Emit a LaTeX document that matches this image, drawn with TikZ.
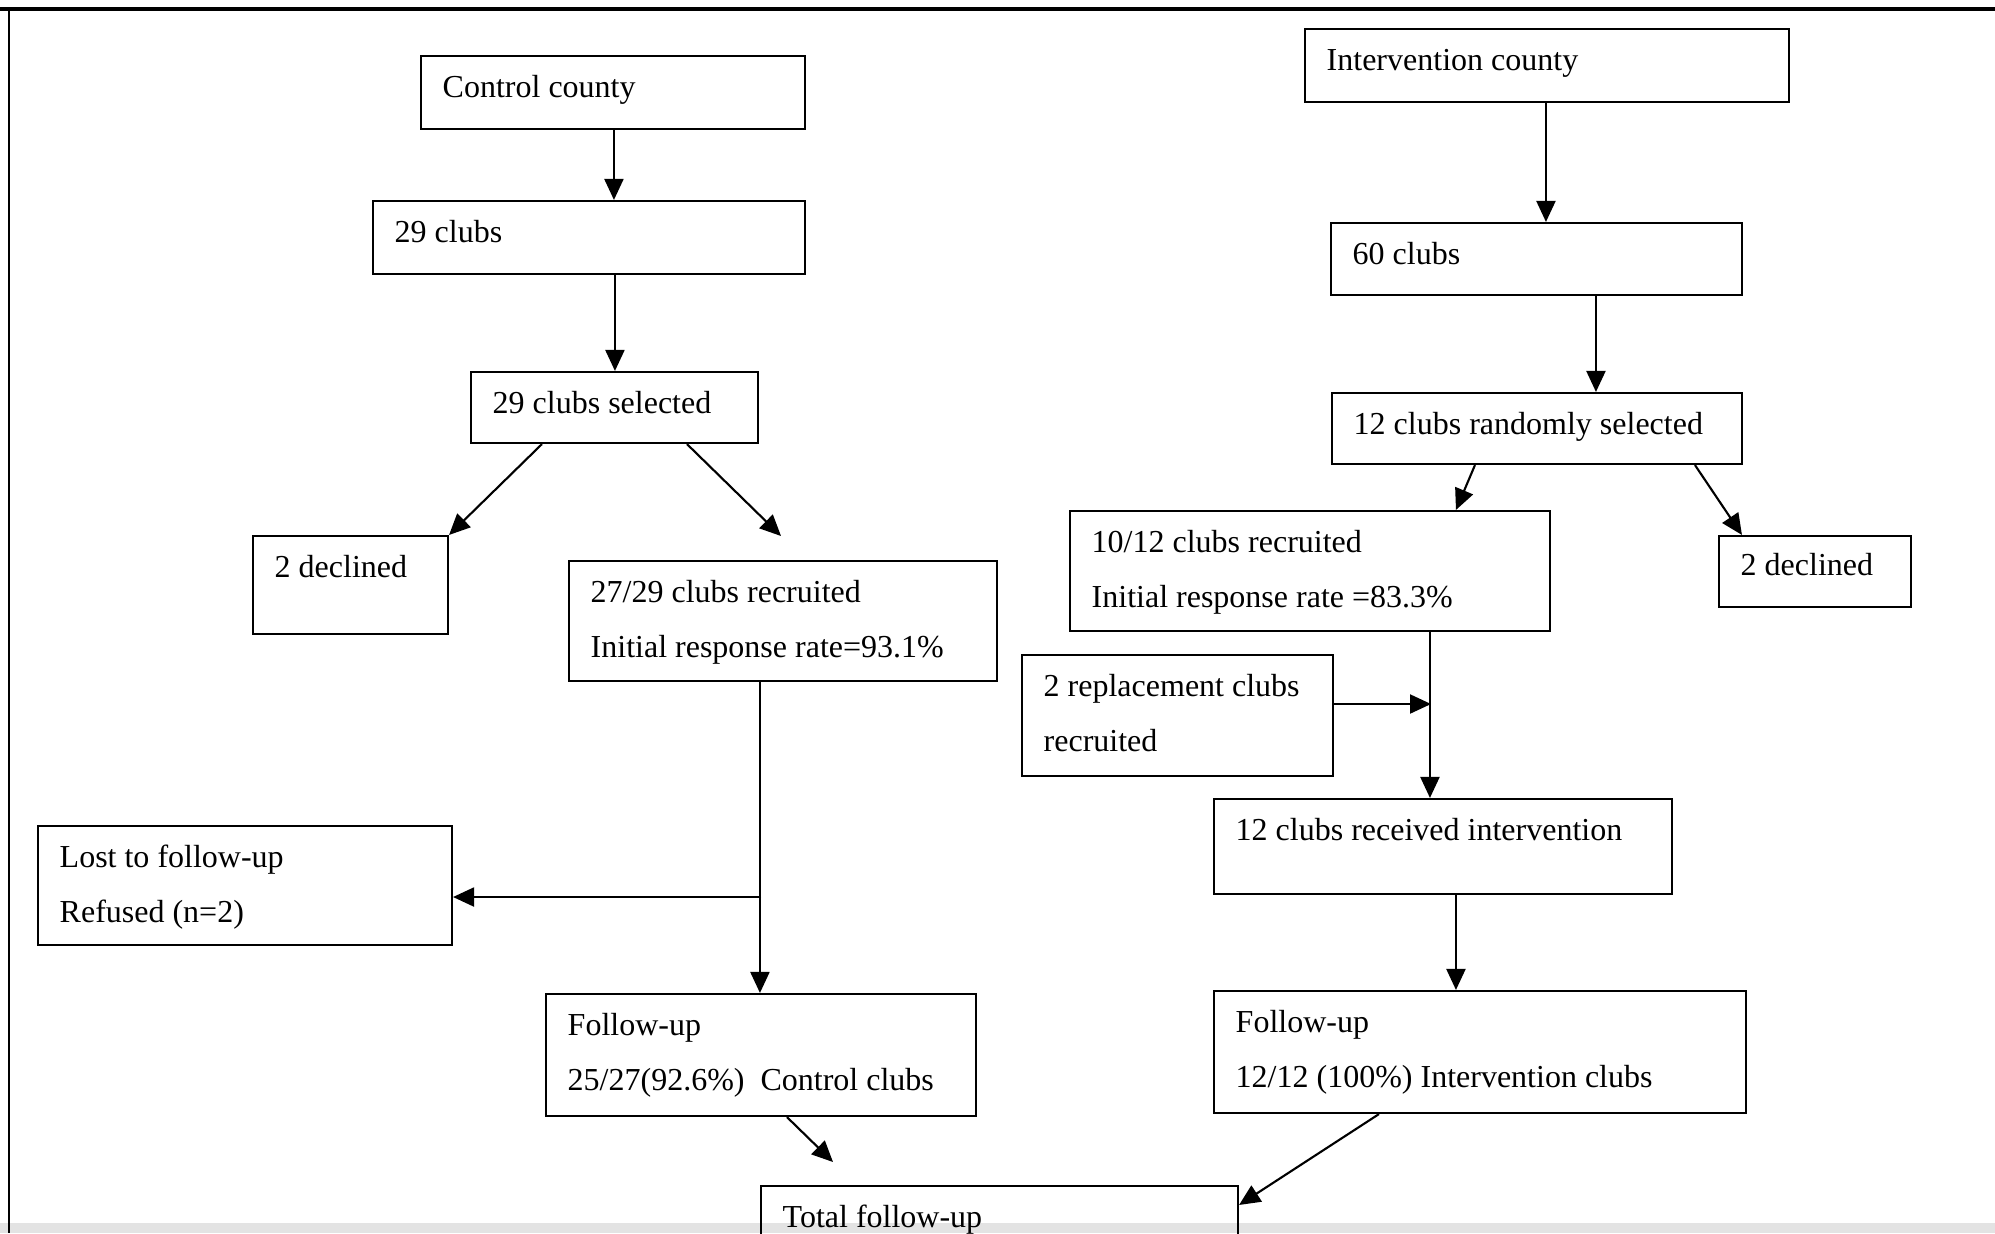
\documentclass[tikz,border=0pt]{standalone}
\usepackage{fontspec}
\setmainfont{Liberation Serif}
\usetikzlibrary{arrows.meta,fit,calc}
\begin{document}
\begin{tikzpicture}[x=0.01cm,y=-0.01cm,
  box/.style={draw, line width=0.6pt, inner sep=0pt},
  txt/.style={anchor=base west, inner sep=0pt, font=\fontsize{9.1}{11}\selectfont},
  arr/.style={-{Triangle[length=2.1mm,width=1.9mm]}, line width=0.6pt}]
\clip (0,0) rectangle (1995,1233);
\fill[white] (0,0) rectangle (1995,1233);
\fill[gray!22] (0,1223) rectangle (1995,1233);
% frame
\draw[line width=1pt] (0,9) -- (1995,9);
\draw[line width=0.8pt] (9,9) -- (9,1233);
% control side boxes
\node[box, fit={(421,56) (805,129)}] (cc) {};
\node[txt] (tcc) at (442,97) {Control county};
\node[box, fit={(373,201) (805,274)}] (c29) {};
\node[txt] (tc29) at (394,242) {29 clubs};
\node[box, fit={(471,372) (758,443)}] (sel) {};
\node[txt] (tsel) at (492,413) {29 clubs selected};
\node[box, fit={(253,536) (448,634)}] (dl) {};
\node[txt] (tdl) at (274,577) {2 declined};
\node[box, fit={(569,561) (997,681)}] (rec) {};
\node[txt] (trec1) at (590,602) {27/29 clubs recruited};
\node[txt] (trec2) at (590,657) {Initial response rate=93.1\%};
\node[box, fit={(38,826) (452,945)}] (lost) {};
\node[txt] (tlost1) at (59,867) {Lost to follow-up};
\node[txt] (tlost2) at (59,922) {Refused (n=2)};
\node[box, fit={(546,994) (976,1116)}] (fuc) {};
\node[txt] (tfuc1) at (567,1035) {Follow-up};
\node[txt] (tfuc2) at (567,1090) {25/27(92.6\%)\ \ Control clubs};
\node[box, fit={(761,1186) (1238,1300)}] (tot) {};
\node[txt] (ttot) at (782,1227) {Total follow-up};
% intervention side boxes
\node[box, fit={(1305,29) (1789,102)}] (ic) {};
\node[txt] (tic) at (1326,70) {Intervention county};
\node[box, fit={(1331,223) (1742,295)}] (c60) {};
\node[txt] (tc60) at (1352,264) {60 clubs};
\node[box, fit={(1332,393) (1742,464)}] (rs) {};
\node[txt] (trs) at (1353,434) {12 clubs randomly selected};
\node[box, fit={(1070,511) (1550,631)}] (rec2) {};
\node[txt] (trecb1) at (1091,552) {10/12 clubs recruited};
\node[txt] (trecb2) at (1091,607) {Initial response rate =83.3\%};
\node[box, fit={(1719,536) (1911,607)}] (dr) {};
\node[txt] (tdr) at (1740,575) {2 declined};
\node[box, fit={(1022,655) (1333,776)}] (rep) {};
\node[txt] (trep1) at (1043,696) {2 replacement clubs};
\node[txt] (trep2) at (1043,751) {recruited};
\node[box, fit={(1214,799) (1672,894)}] (rci) {};
\node[txt] (trci) at (1235,840) {12 clubs received intervention};
\node[box, fit={(1214,991) (1746,1113)}] (fui) {};
\node[txt] (tfui1) at (1235,1032) {Follow-up};
\node[txt] (tfui2) at (1235,1087) {12/12 (100\%) Intervention clubs};
% free ends / junctions
\coordinate (e1) at (781,536);
\coordinate (b1) at (761,897);
\coordinate (e2) at (833,1162);
\coordinate (j1) at (1431,704);
% connectors control
\draw[arr] ($(cc.south west)+(194,0)$) -- ($(c29.north west)+(242,0)$);
\draw[arr] ($(c29.south west)+(243,0)$) -- ($(sel.north west)+(145,0)$);
\draw[arr] ($(sel.south west)+(72,0)$) -- (dl.north east);
\draw[arr] ($(sel.south west)+(217,0)$) -- (e1);
\draw[arr] ($(rec.south west)+(192,0)$) -- ($(fuc.north west)+(215,0)$);
\draw[arr] (b1) -- (b1 -| lost.east);
\draw[arr] ($(fuc.south west)+(242,0)$) -- (e2);
\draw[arr] ($(fui.south west)+(166,0)$) -- ($(tot.north east)+(0,20)$);
% connectors intervention
\draw[arr] ($(ic.south west)+(242,0)$) -- ($(c60.north west)+(216,0)$);
\draw[arr] ($(c60.south west)+(266,0)$) -- ($(rs.north west)+(265,0)$);
\draw[arr] ($(rs.south west)+(144,0)$) -- ($(rec2.north west)+(387,0)$);
\draw[arr] ($(rs.south west)+(364,0)$) -- ($(dr.north west)+(24,0)$);
\draw[arr] ($(rec2.south west)+(361,0)$) -- ($(rci.north west)+(217,0)$);
\draw[arr] (j1 -| rep.east) -- (j1);
\draw[arr] ($(rci.south west)+(243,0)$) -- ($(fui.north west)+(243,0)$);
\end{tikzpicture}
\end{document}
